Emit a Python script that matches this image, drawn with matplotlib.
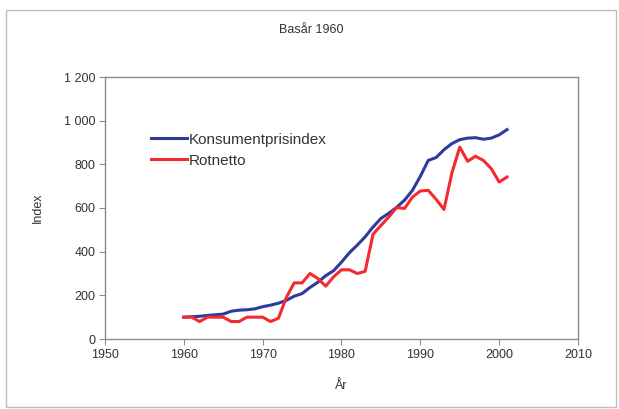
import matplotlib
matplotlib.use("Agg")
import matplotlib.pyplot as plt
from matplotlib.patches import Rectangle
from matplotlib.ticker import FuncFormatter

years = list(range(1960, 2002))
kpi = [100, 102, 104, 108, 111, 114, 127, 132, 134, 138,
       148, 155, 164, 177, 196, 208, 236, 260, 290, 313,
       352, 395, 430, 468, 513, 552, 576, 603, 636, 681,
       745, 818, 831, 867, 895, 913, 920, 922, 915, 920,
       935, 959]
rotnetto = [100, 100, 80, 100, 100, 100, 80, 80, 100, 100,
            100, 80, 95, 190, 257, 257, 300, 277, 242, 285,
            317, 317, 300, 310, 480, 520, 559, 602, 598, 650,
            678, 681, 640, 593, 760, 879, 814, 837, 818, 780,
            719, 742]

xticks = [1950, 1960, 1970, 1980, 1990, 2000, 2010]
yticks = [0, 200, 400, 600, 800, 1000, 1200]

plt.rcParams['font.family'] = ['Liberation Sans', 'DejaVu Sans']
fig = plt.figure(figsize=(6.19, 4.09), dpi=100)
ax = fig.add_axes([105/619, 1-339/409, (578-105)/619, (339-77)/409])

ax.plot(years, kpi, color='#2E3A9C', lw=2.2, label='Konsumentprisindex')
ax.plot(years, rotnetto, color='#F42A2E', lw=2.2, label='Rotnetto')

ax.set_xlim(1950, 2010)
ax.set_ylim(0, 1200)
ax.set_xticks(xticks)
ax.set_yticks(yticks)
ax.yaxis.set_major_formatter(FuncFormatter(lambda v, p: f"{int(v):,}".replace(",", " ")))
for s in ax.spines.values():
    s.set_color('#8c8c8c')
    s.set_linewidth(1.0)
ax.tick_params(direction='out', length=4, color='#8c8c8c', labelsize=9, labelcolor='#333333', pad=3)
ax.set_xlabel('År', fontsize=9, color='#333333', labelpad=14)
ax.set_ylabel('Index', fontsize=9, color='#333333', labelpad=14)

leg = ax.legend(loc='upper left', bbox_to_anchor=(0.069, 0.84), frameon=False,
                fontsize=11, handlelength=2.35, handletextpad=0.12, labelspacing=0.45,
                labelcolor='#333333')

fig.text(311/619, 1-30/409, 'Basår 1960', ha='center', va='center', fontsize=9, color='#333333')
fig.patches.append(Rectangle((6/619, 2/409), 610/619, 397/409, transform=fig.transFigure,
                             fill=False, edgecolor='#bdbdbd', lw=1.0))

fig.savefig('out.png', dpi=100)
